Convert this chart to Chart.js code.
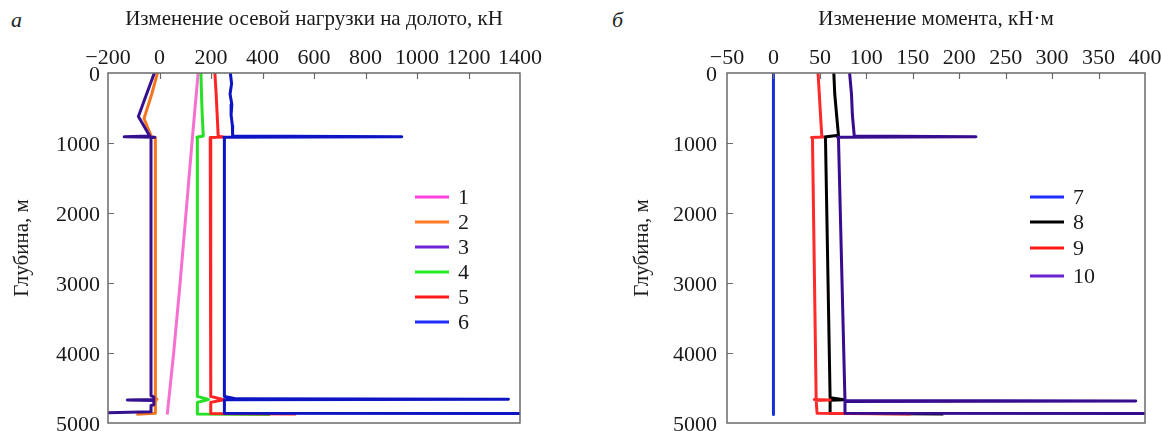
<!DOCTYPE html>
<html>
<head>
<meta charset="utf-8">
<script src="https://cdn.jsdelivr.net/npm/chart.js@4.4.1/dist/chart.umd.min.js"></script>
<style>
    body { margin: 0; background: #fff; width: 1162px; height: 431px; overflow: hidden; position: relative; font-family: "Liberation Serif", "Times New Roman", serif; }
    .box { position: absolute; top: 0; height: 431px; }
    #leftBox { left: 0; width: 580px; }
    #rightBox { left: 580px; width: 582px; }
    .tag { position: absolute; font-style: italic; font-size: 22px; color: #222; line-height: 1; }
</style>
</head>
<body>
<div class="tag" style="left:11px; top:9px;">а</div>
<div class="tag" style="left:612px; top:9px;">б</div>
<div class="box" id="leftBox"><canvas id="loadChart"></canvas></div>
<div class="box" id="rightBox"><canvas id="torqueChart"></canvas></div>
<script>
// --- left panel: change of axial load on the bit, kN (x) vs depth, m (y)
const depth1 = [0, 1000, 2000, 3000, 4000, 4880];
const load1  = [150, 126, 103, 80, 55, 30];

const depth2 = [0, 300, 650, 905, 915, 925, 4640, 4660, 4690, 4860, 4875];
const load2  = [-8, -30, -60, -32, -32, -16, -16, -10, -16, -16, -90];

const depth3 = [0, 300, 620, 900, 912, 918, 925, 4610, 4630, 4665, 4672, 4680, 4740, 4750, 4840, 4855];
const load3  = [-20, -50, -82, -38, -137, -18, -33, -33, -22, -22, -125, -22, -22, -33, -33, -200];

const depth4 = [0, 300, 600, 900, 918, 925, 4620, 4665, 4705, 4870, 4880];
const load4  = [161, 163, 166, 170, 145, 147, 147, 190, 147, 147, 430];

const depth5 = [0, 300, 600, 905, 915, 920, 928, 4620, 4668, 4705, 4865, 4872];
const load5  = [215, 220, 224, 228, 248, 197, 199, 199, 250, 199, 199, 530];

const depth6 = [0, 150, 300, 450, 600, 750, 900, 912, 918, 925, 4620, 4655, 4662, 4668, 4700, 4860, 4866];
const load6  = [275, 280, 274, 281, 278, 283, 284, 941, 250, 252, 252, 300, 1355, 252, 252, 252, 1400];

// --- right panel: change of torque, kN·m (x) vs depth, m (y)
const depth7  = [0, 4880];
const torque7 = [0, 0];

const depth8  = [0, 300, 600, 890, 915, 922, 4640, 4668, 4676, 4860, 4870];
const torque8 = [65, 66, 68, 70, 55, 56, 61, 76, 61, 61, 183];

const depth9  = [0, 890, 915, 920, 925, 4650, 4665, 4672, 4680, 4862, 4872];
const torque9 = [48, 52, 53, 41, 42, 46, 44, 61, 46, 47, 148];

const depth10  = [0, 300, 600, 900, 912, 918, 925, 4680, 4686, 4692, 4860, 4866];
const torque10 = [82, 84, 85, 87, 218, 69, 70, 77, 390, 77, 77, 400];

const loadLabels   = ['1', '2', '3', '4', '5', '6'];
const torqueLabels = ['7', '8', '9', '10'];

Chart.defaults.font.family = '"Liberation Serif", "Times New Roman", serif';
Chart.defaults.color = '#1a1a1a';

function toPoints(xs, ys) {
    return xs.map((x, i) => ({ x: x, y: ys[i] }));
}

function minusSign(v) {
    return v < 0 ? '\u2212' + Math.abs(v) : String(v);
}

function lineSet(label, xs, ys, color, legendColor, order) {
    return {
        label: label,
        data: toPoints(xs, ys),
        borderColor: color,
        legendColor: legendColor,
        borderWidth: 3,
        borderJoinStyle: 'round',
        pointRadius: 0,
        showLine: true,
        tension: 0,
        order: order
    };
}

// frame round the plot, inward tick marks, and the legend inside the plot
const frameAndLegend = {
    id: 'frameAndLegend',
    afterDatasetsDraw(chart, args, opts) {
        const { ctx, chartArea: a, scales } = chart;
        ctx.save();
        ctx.strokeStyle = '#6a6a6a';
        ctx.lineWidth = 1.5;
        ctx.strokeRect(a.left, a.top, a.right - a.left, a.bottom - a.top);

        ctx.beginPath();
        scales.x.ticks.forEach(t => {
            if (t.value > scales.x.min && t.value < scales.x.max) {
                let px = Math.round(scales.x.getPixelForValue(t.value)) + 0.5;
                ctx.moveTo(px, a.top);
                ctx.lineTo(px, a.top + 6);
            }
        });
        scales.y.ticks.forEach(t => {
            if (t.value > scales.y.min && t.value < scales.y.max) {
                let py = Math.round(scales.y.getPixelForValue(t.value)) + 0.5;
                ctx.moveTo(a.left, py);
                ctx.lineTo(a.left + 6, py);
            }
        });
        ctx.lineWidth = 1.2;
        ctx.stroke();

        ctx.font = '22px "Liberation Serif", "Times New Roman", serif';
        ctx.textBaseline = 'middle';
        ctx.fillStyle = '#1a1a1a';
        chart.data.datasets.forEach((ds, i) => {
            let y = opts.rows[i];
            ctx.beginPath();
            ctx.strokeStyle = ds.legendColor;
            ctx.lineWidth = 3;
            ctx.moveTo(opts.lineX, y);
            ctx.lineTo(opts.lineX + 34, y);
            ctx.stroke();
            ctx.fillText(ds.label, opts.textX, y + 1);
        });
        ctx.restore();
    }
};

function panelOptions(cfg) {
    return {
        responsive: true,
        maintainAspectRatio: false,
        animation: false,
        layout: { padding: { left: 0, top: 0, right: cfg.padRight, bottom: 8 } },
        plugins: {
            legend: { display: false },
            tooltip: { enabled: false },
            frameAndLegend: cfg.legend
        },
        scales: {
            x: {
                type: 'linear',
                position: 'top',
                min: cfg.xMin,
                max: cfg.xMax,
                grid: { display: false, drawTicks: false },
                border: { display: false },
                ticks: { stepSize: cfg.xStep, padding: 2, autoSkip: false, maxRotation: 0, font: { size: 22 }, callback: minusSign },
                title: { display: true, text: cfg.xTitle, font: { size: 21 }, padding: { top: 7, bottom: 0 } },
                afterFit: (s) => { s.height = 73; s.paddingLeft = 0; s.paddingRight = 0; }
            },
            y: {
                type: 'linear',
                reverse: true,
                min: 0,
                max: 5000,
                grid: { display: false, drawTicks: false },
                border: { display: false },
                ticks: { stepSize: 1000, padding: cfg.yPad, labelOffset: 2, font: { size: 22 }, callback: (v) => String(v) },
                title: { display: true, text: 'Глубина, м', font: { size: 21 }, padding: { top: cfg.yTitleTop, bottom: 0 } },
                afterFit: (s) => { s.width = cfg.yWidth; s.paddingTop = 0; s.paddingBottom = 0; }
            }
        }
    };
}

new Chart(document.getElementById('loadChart'), {
    type: 'scatter',
    data: {
        datasets: [
            lineSet(loadLabels[0], load1, depth1, '#f571cf', '#ff3fe0', 6),
            lineSet(loadLabels[1], load2, depth2, '#f5761f', '#ff7a22', 5),
            lineSet(loadLabels[2], load3, depth3, '#35108f', '#6f22d6', 4),
            lineSet(loadLabels[3], load4, depth4, '#25e025', '#22ee22', 3),
            lineSet(loadLabels[4], load5, depth5, '#ff2424', '#ff1a1a', 2),
            lineSet(loadLabels[5], load6, depth6, '#0d14c4', '#1f2dff', 1)
        ]
    },
    options: panelOptions({
        padRight: 60, xMin: -200, xMax: 1400, xStep: 200,
        xTitle: 'Изменение осевой нагрузки на долото, кН',
        yPad: 8, yTitleTop: 10, yWidth: 108,
        legend: { lineX: 415, textX: 458, rows: [197, 222, 247, 272, 297, 322] }
    }),
    plugins: [frameAndLegend]
});

new Chart(document.getElementById('torqueChart'), {
    type: 'scatter',
    data: {
        datasets: [
            lineSet(torqueLabels[0], torque7, depth7, '#1530d8', '#1f2dff', 4),
            lineSet(torqueLabels[1], torque8, depth8, '#000000', '#000000', 3),
            lineSet(torqueLabels[2], torque9, depth9, '#ff2a2a', '#ff1a1a', 2),
            lineSet(torqueLabels[3], torque10, depth10, '#380c8e', '#6a22d2', 1)
        ]
    },
    options: panelOptions({
        padRight: 17, xMin: -50, xMax: 400, xStep: 50,
        xTitle: 'Изменение момента, кН·м',
        yPad: 10, yTitleTop: 50, yWidth: 147,
        legend: { lineX: 450, textX: 493, rows: [197, 222, 248, 276] }
    }),
    plugins: [frameAndLegend]
});
</script>
</body>
</html>
